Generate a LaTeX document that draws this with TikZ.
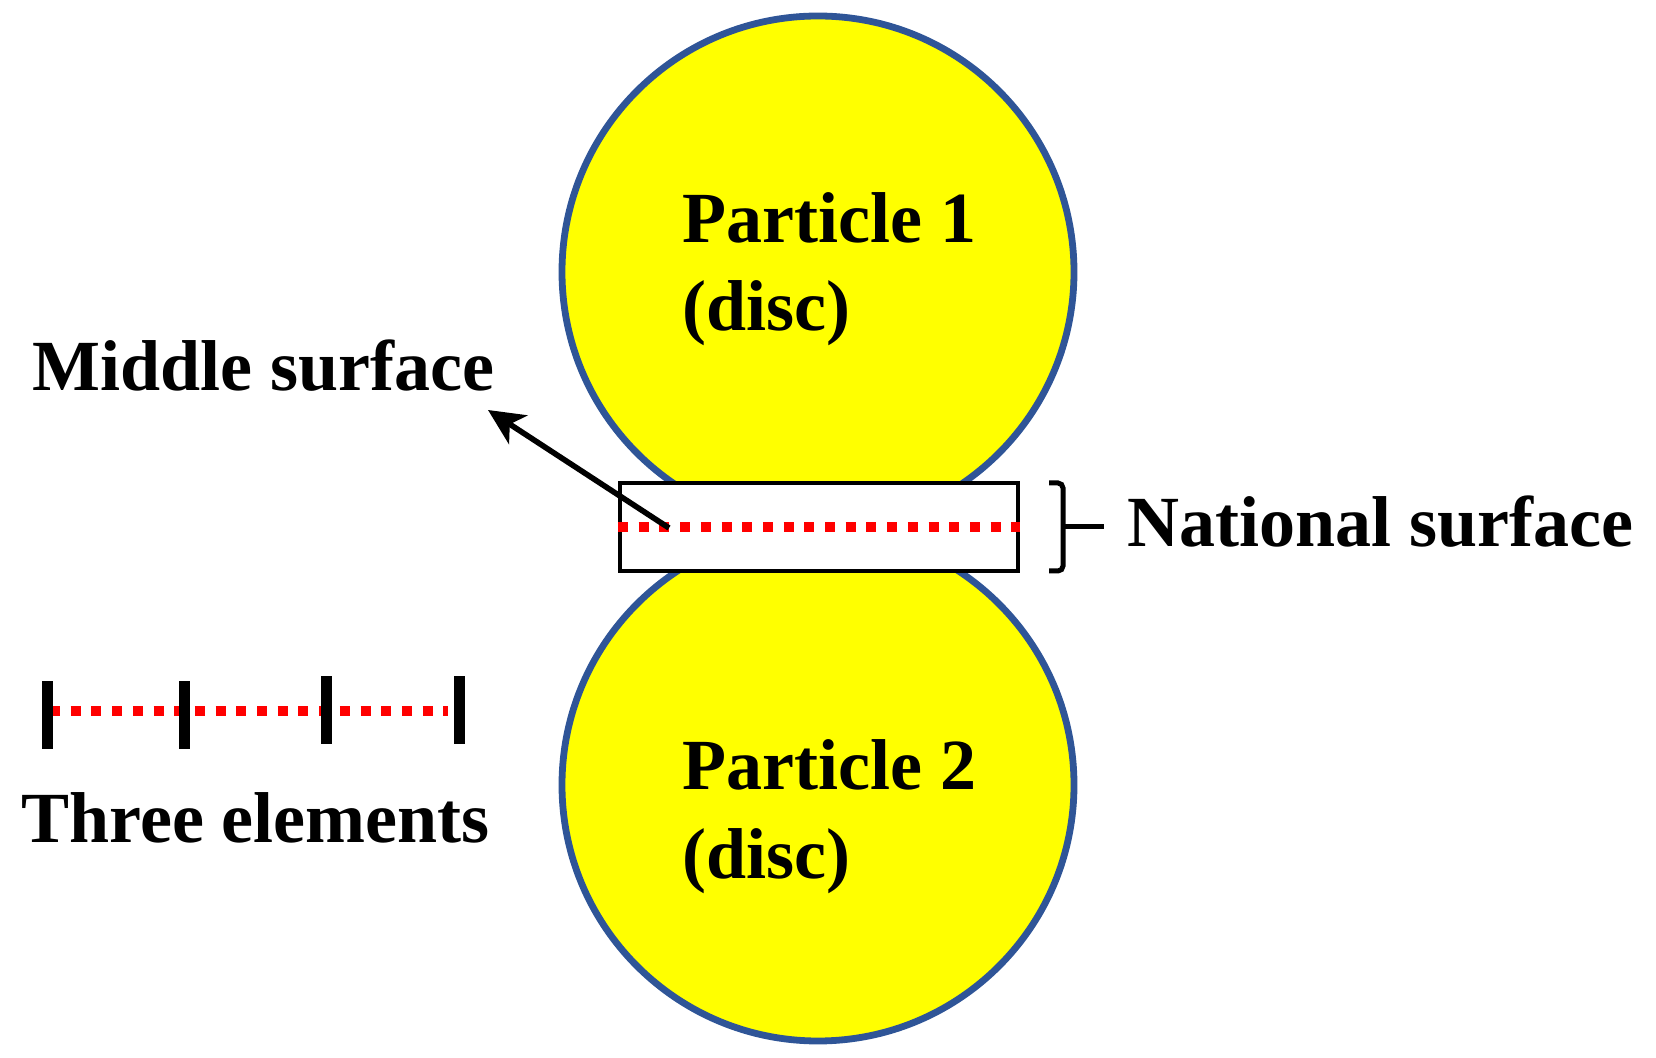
\documentclass[tikz,border=0pt]{standalone}
\usepackage{fontspec}
\setmainfont{Liberation Serif}
\usetikzlibrary{arrows.meta}
\definecolor{rimblue}{RGB}{47,85,151}
\definecolor{discyellow}{RGB}{255,255,0}
\definecolor{dotred}{RGB}{255,0,0}
\tikzset{
  disc/.style={circle, draw=rimblue, line width=3.4pt, fill=discyellow, minimum size=256pt, inner sep=0pt},
  label text/.style={font=\bfseries\fontsize{36}{44}\selectfont, inner sep=0pt, anchor=base west},
  redline/.style={draw=dotred, line width=5pt, dash pattern=on 5pt off 5.35pt},
  tickmark/.style={line width=5.5pt},
  pointer/.style={line width=2.8pt, -{Stealth[length=18pt,width=17pt,inset=5pt]}},
  bracket/.style={line width=2.5pt, rounded corners=2.5pt},
}
\begin{document}
\begin{tikzpicture}[x=0.5pt,y=-0.5pt]
\useasboundingbox (0,0) rectangle (1656,1058);
% particles
\node[disc] (c1) at (818,272) {};
\node[disc] (c2) at (818,785) {};
% interface box
\node[draw, line width=2pt, fill=white, minimum width=199pt, minimum height=44pt, inner sep=0pt] (box) at (819,527) {};
\draw[redline] (box.west) -- (box.east);
% labels in particles
\node[label text] (p1) at (682,243) {Particle 1};
\node[label text] (p1b) at (682,331) {(disc)};
\node[label text] (p2) at (682,790) {Particle 2};
\node[label text] (p2b) at (682,878) {(disc)};
% middle surface
\node[label text] (ms) at (32,391) {Middle surface};
\coordinate (msfrom) at (669,528);
\coordinate (msto) at (488,410);
\draw[pointer] (msfrom) -- (msto);
% national surface bracket
\coordinate (brtop) at (1049,483);
\coordinate (brmid) at (1063,527);
\coordinate (brbot) at (1049,571);
\coordinate (brtick) at (1104,527);
\draw[bracket] (brtop) -| (brmid) |- (brbot);
\draw[line width=2.5pt] (brmid) -- (brtick);
\node[label text] (ns) at (1127,547) {National surface};
% three elements
\coordinate (e0) at (47,715);
\coordinate (e1) at (184,715);
\coordinate (e2) at (326,710);
\coordinate (e3) at (459,710);
\draw[redline] (50,711) -- (448,711);
\draw[tickmark] ([yshift=-17pt]e0) -- ([yshift=17pt]e0);
\draw[tickmark] ([yshift=-17pt]e1) -- ([yshift=17pt]e1);
\draw[tickmark] ([yshift=-17pt]e2) -- ([yshift=17pt]e2);
\draw[tickmark] ([yshift=-17pt]e3) -- ([yshift=17pt]e3);
\node[label text] (te) at (21,842) {Three elements};
\end{tikzpicture}
\end{document}
